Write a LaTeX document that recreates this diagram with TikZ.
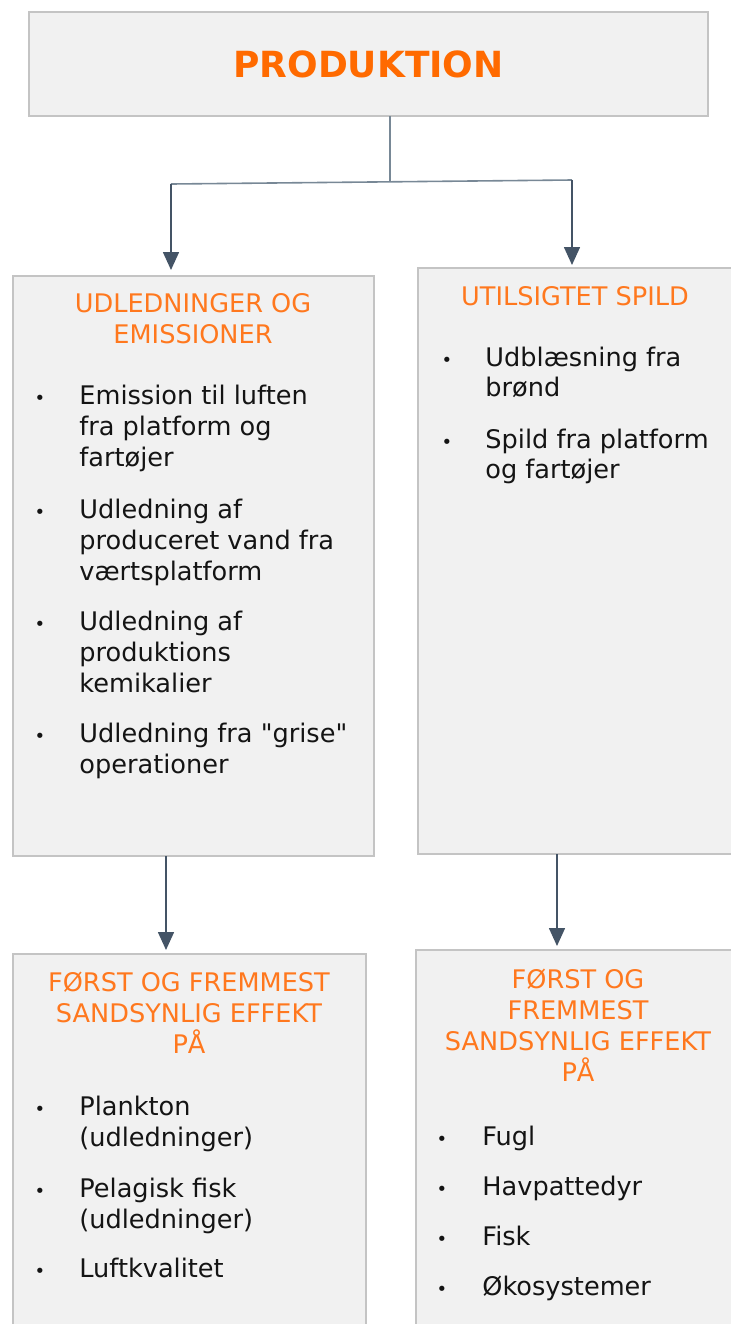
\documentclass[tikz,border=0pt]{standalone}
\usepackage{fontspec}
\setmainfont{DejaVu Sans}
\usepackage{tikz}
\usepackage{xcolor}
\usetikzlibrary{positioning,arrows.meta,calc}
\definecolor{orangetitel}{RGB}{255,106,0}
\definecolor{orangetekst}{RGB}{255,120,30}
\definecolor{kasse}{RGB}{241,241,241}
\definecolor{kant}{RGB}{196,196,196}
\definecolor{pil}{RGB}{68,84,102}
\definecolor{stamme}{RGB}{120,136,150}

\tikzset{
  kassestil/.style={draw=kant,fill=kasse,line width=0.8pt,rectangle,anchor=north west,inner sep=0pt,outer sep=0pt},
  % flerlinjede tekster hænger i sidste linjes grundlinje
  overskrift/.style={anchor=base,align=center,inner sep=0pt,text=orangetekst,font=\fontsize{12.8}{15.5}\selectfont},
  punkt/.style={anchor=base west,align=left,inner sep=0pt,text=black!92,font=\fontsize{12.8}{15.5}\selectfont},
  prik/.style={anchor=base,inner sep=0pt,text=black!92,font=\fontsize{9}{10}\selectfont},
  pilstil/.style={draw=pil,line width=0.8pt,-{Triangle[length=9pt,width=8pt]}},
}

\begin{document}
\begin{tikzpicture}[x=0.5pt,y=-0.5pt]
  \useasboundingbox (0,0) rectangle (731,1324);
  \clip (0,0) rectangle (731,1324);

  % kasser
  \node[kassestil,minimum width=339.5pt,minimum height=52pt,
        font=\bfseries\fontsize{18}{22}\selectfont,text=orangetitel] (produktion) at (29,12) {PRODUKTION};
  \node[kassestil,minimum width=180.5pt,minimum height=290pt] (emis) at (13,276) {};
  \node[kassestil,minimum width=163.5pt,minimum height=293pt] (spild) at (418,268) {};
  \node[kassestil,minimum width=176.5pt,minimum height=193pt] (effektA) at (13,954) {};
  \node[kassestil,minimum width=164.5pt,minimum height=195pt] (effektB) at (416,950) {};

  % forbindelser
  \coordinate (deling) at (390,182);
  \coordinate (venstre) at (171,184);
  \coordinate (hoejre) at (572,180);
  \draw[stamme,line width=0.8pt] (produktion.south -| deling) -- (deling);
  \draw[stamme,line width=0.8pt] (venstre) -- (hoejre);
  \draw[pilstil,shorten >=3pt] (venstre) -- (venstre |- emis.north);
  \draw[pilstil,shorten >=1.5pt] (hoejre) -- (hoejre |- spild.north);
  \draw[pilstil,shorten >=2pt] (emis.south -| 166,0) -- (effektA.north -| 166,0);
  \draw[pilstil,shorten >=2pt] (spild.south -| 557,0) -- (effektB.north -| 557,0);

  % udledninger og emissioner
  \node[overskrift] (emistitel) at (193,343) {UDLEDNINGER OG\\EMISSIONER};
  \node[prik] (ep1) at (40,404) {\textbullet};
  \node[punkt] (e1) at (79,466) {Emission til luften\\fra platform og\\fartøjer};
  \node[prik] (ep2) at (40,518) {\textbullet};
  \node[punkt] (e2) at (79,580) {Udledning af\\produceret vand fra\\værtsplatform};
  \node[prik] (ep3) at (40,630) {\textbullet};
  \node[punkt] (e3) at (79,692) {Udledning af\\produktions\\kemikalier};
  \node[prik] (ep4) at (40,742) {\textbullet};
  \node[punkt] (e4) at (79,773) {Udledning fra \textquotedbl grise\textquotedbl\\operationer};

  % utilsigtet spild
  \node[overskrift] (spildtitel) at (575,305) {UTILSIGTET SPILD};
  \node[prik] (sp1) at (447,366) {\textbullet};
  \node[punkt,font=\fontsize{12.8}{15}\selectfont] (s1) at (485,396) {Udblæsning fra\\brønd};
  \node[prik] (sp2) at (447,448) {\textbullet};
  \node[punkt,font=\fontsize{12.8}{15}\selectfont] (s2) at (485,478) {Spild fra platform\\og fartøjer};

  % effekt, venstre
  \node[overskrift] (effekttitelA) at (189,1053) {FØRST OG FREMMEST\\SANDSYNLIG EFFEKT\\PÅ};
  \node[prik] (ap1) at (40,1115) {\textbullet};
  \node[punkt] (a1) at (79,1146) {Plankton\\(udledninger)};
  \node[prik] (ap2) at (40,1197) {\textbullet};
  \node[punkt] (a2) at (79,1228) {Pelagisk fisk\\(udledninger)};
  \node[prik] (ap3) at (40,1277) {\textbullet};
  \node[punkt] (a3) at (79,1277) {Luftkvalitet};

  % effekt, hoejre
  \node[overskrift] (effekttitelB) at (578,1081) {FØRST OG\\FREMMEST\\SANDSYNLIG EFFEKT\\PÅ};
  \node[prik] (bp1) at (442,1145) {\textbullet};
  \node[punkt] (b1) at (482,1145) {Fugl};
  \node[prik] (bp2) at (442,1195) {\textbullet};
  \node[punkt] (b2) at (482,1195) {Havpattedyr};
  \node[prik] (bp3) at (442,1245) {\textbullet};
  \node[punkt] (b3) at (482,1245) {Fisk};
  \node[prik] (bp4) at (442,1295) {\textbullet};
  \node[punkt] (b4) at (482,1295) {Økosystemer};
\end{tikzpicture}
\end{document}
